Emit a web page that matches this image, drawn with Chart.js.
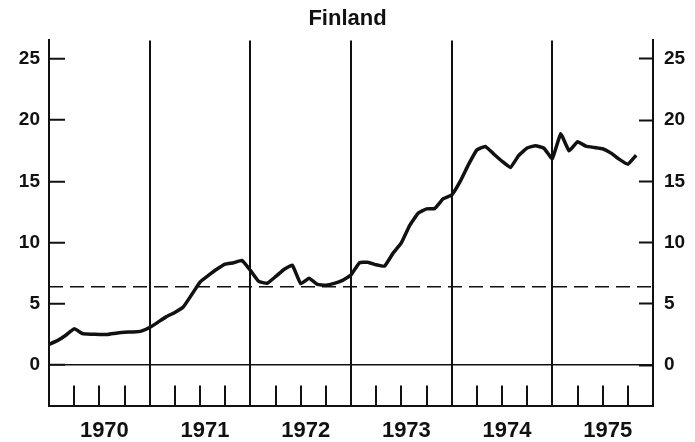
<!DOCTYPE html>
<html>
<head>
<meta charset="utf-8">
<title>Finland</title>
<script src="https://cdn.jsdelivr.net/npm/chart.js@4"></script>
<style>
  html, body { margin: 0; padding: 0; background: #fff; }
  #wrap { width: 695px; height: 442px; }
</style>
</head>
<body>
<div id="wrap"><canvas id="chart" width="695" height="442"></canvas></div>
<script>
// monthly values, Jan 1970 onwards
const firstYear = 1970;
const lastYear = 1976;
const monthlyValues = [
  1.7, 2.0, 2.44, 2.98, 2.57, 2.52, 2.51, 2.51, 2.61, 2.69, 2.71, 2.78,
  3.07, 3.51, 3.96, 4.3, 4.74, 5.74, 6.78, 7.32, 7.82, 8.24, 8.35, 8.55,
  7.74, 6.83, 6.68, 7.22, 7.81, 8.16, 6.65, 7.09, 6.59, 6.53, 6.67, 6.92,
  7.36, 8.35, 8.4, 8.19, 8.08, 9.12, 9.97, 11.41, 12.4, 12.75, 12.79, 13.58,
  13.88, 14.97, 16.36, 17.56, 17.85, 17.24, 16.64, 16.13, 17.12, 17.72, 17.91, 17.7,
  16.85, 18.89, 17.48, 18.23, 17.87, 17.76, 17.66, 17.3, 16.79, 16.39, 17.13
];
const referenceLevel = 6.4;
const yTicks = [0, 5, 10, 15, 20, 25];
const yearLabels = ['1970', '1971', '1972', '1973', '1974', '1975'];

const INK = '#111';

const linePoints = monthlyValues.map((v, i) => ({ x: firstYear + i / 12, y: v }));

// quarter tick marks plus one label slot per year
const xTicks = [];
for (let q = firstYear * 4; q <= lastYear * 4; q++) xTicks.push({ value: q / 4 });
yearLabels.forEach(label => xTicks.push({ value: Number(label) + 0.55, label: label }));
xTicks.sort((a, b) => a.value - b.value);

function isQuarter(v) { return Math.abs(v * 4 - Math.round(v * 4)) < 1e-6; }

const yAxisCommon = {
  type: 'linear',
  min: -3.3,
  max: 26.5,
  border: { color: INK, width: 2 },
  ticks: {
    padding: 25,
    color: INK,
    font: { family: 'Liberation Sans, Arial, sans-serif', size: 19, weight: 'bold' }
  },
  afterBuildTicks: function(scale) {
    scale.ticks = yTicks.map(v => ({ value: v }));
  }
};

new Chart(document.getElementById('chart'), {
  type: 'line',
  data: {
    datasets: [{
      data: linePoints,
      borderColor: INK,
      borderWidth: 3.5,
      pointRadius: 0,
      tension: 0.1,
      fill: false
    }, {
      data: [{ x: firstYear, y: referenceLevel }, { x: lastYear, y: referenceLevel }],
      borderColor: INK,
      borderWidth: 1.5,
      borderDash: [14, 7],
      pointRadius: 0,
      fill: false
    }]
  },
  options: {
    responsive: false,
    animation: false,
    layout: { padding: 0 },
    plugins: {
      legend: { display: false },
      tooltip: { enabled: false },
      title: {
        display: true,
        text: 'Finland',
        color: INK,
        font: { family: 'Liberation Sans, Arial, sans-serif', size: 22, weight: 'bold' },
        padding: { top: 6, bottom: 8 }
      }
    },
    scales: {
      x: {
        type: 'linear',
        min: firstYear,
        max: lastYear,
        border: { color: INK, width: 2 },
        grid: {
          color: ctx => (ctx.tick && Number.isInteger(ctx.tick.value)) ? INK : 'rgba(0,0,0,0)',
          lineWidth: 2,
          tickColor: ctx => (ctx.tick && isQuarter(ctx.tick.value)) ? INK : 'rgba(0,0,0,0)',
          tickWidth: 2,
          tickLength: -20
        },
        ticks: {
          autoSkip: false,
          maxRotation: 0,
          padding: 32,
          color: INK,
          font: { family: 'Liberation Sans, Arial, sans-serif', size: 22, weight: 'bold' },
          callback: function(value, index, ticks) {
            return ticks[index].label || '';
          }
        },
        afterBuildTicks: function(scale) {
          scale.ticks = xTicks.map(t => Object.assign({}, t));
        },
        afterFit: function(scale) { scale.height = 34; }
      },
      y: Object.assign({}, yAxisCommon, {
        position: 'left',
        grid: {
          color: ctx => (ctx.tick && ctx.tick.value === 0) ? INK : 'rgba(0,0,0,0)',
          lineWidth: 1.5,
          tickColor: INK,
          tickWidth: 2,
          tickLength: -16
        },
        afterFit: function(scale) { scale.width = 49; }
      }),
      y2: Object.assign({}, yAxisCommon, {
        position: 'right',
        grid: {
          drawOnChartArea: false,
          tickColor: INK,
          tickWidth: 2,
          tickLength: -14
        },
        afterFit: function(scale) { scale.width = 42; }
      })
    }
  }
});
</script>
</body>
</html>
